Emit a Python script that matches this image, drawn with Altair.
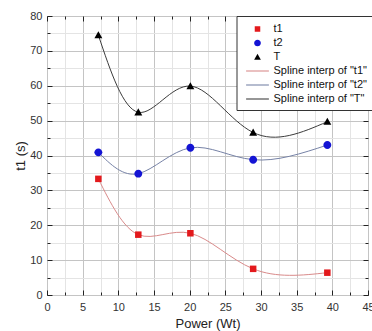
import altair as alt
import pandas as pd

# ---- data ----
power = [7.2, 12.8, 20.1, 28.9, 39.3]
t1 = [33.3, 17.3, 17.7, 7.5, 6.4]
t2 = [40.9, 34.8, 42.2, 38.8, 43.0]
T = [74.5, 52.4, 59.9, 46.6, 49.7]

series_names = ["t1", "t2", "T"]
spline_names = ['Spline interp of "t1"', 'Spline interp of "t2"', 'Spline interp of "T"']
point_colors = ["#e3191c", "#1414d4", "#000000"]
line_colors = ["#d98a8a", "#7682a6", "#3c3c3c"]

x_major = [0, 5, 10, 15, 20, 25, 30, 35, 40, 45]
x_minor = [2.5, 7.5, 12.5, 17.5, 22.5, 27.5, 32.5, 37.5, 42.5]
y_major = [0, 10, 20, 30, 40, 50, 60, 70, 80]
y_minor = [5, 15, 25, 35, 45, 55, 65, 75]

# symbol paths (styles) for the legend / points
sq = "M-0.46,-0.46H0.46V0.46H-0.46Z"
ci = "M-0.56,0A0.56,0.56 0 1,0 0.56,0A0.56,0.56 0 1,0 -0.56,0Z"
tr = "M0,-0.55L0.56,0.45L-0.56,0.45Z"
ln = "M-1.9,-0.09H1.9V0.09H-1.9Z"

# ---- tables ----
values = [t1, t2, T]
pts = pd.DataFrame(
    [{"power": p, "value": v, "label": name}
     for name, vals in zip(series_names, values) for p, v in zip(power, vals)]
)
lines = pd.DataFrame(
    [{"power": p, "value": v, "label": name}
     for name, vals in zip(spline_names, values) for p, v in zip(power, vals)]
)

all_labels = series_names + spline_names
font = "Liberation Sans"

xs = alt.Scale(domain=[0, 45], nice=False, zero=False)
ys = alt.Scale(domain=[0, 80], nice=False, zero=False)

common = dict(domain=False, tickColor="#222", tickWidth=1, labelFont=font,
              titleFont=font)

minor_layer = alt.Chart(pts).mark_point(opacity=0).encode(
    x=alt.X("power:Q", scale=xs, axis=alt.Axis(
        orient="bottom", values=x_minor, labels=False, tickSize=3, offset=-3,
        grid=True, gridColor="#e4e4e4", title=None, zindex=0, **common)),
    y=alt.Y("value:Q", scale=ys, axis=alt.Axis(
        orient="left", values=y_minor, labels=False, tickSize=3, offset=-3,
        grid=True, gridColor="#e4e4e4", title=None, zindex=0, **common)),
)

major_layer = alt.Chart(pts).mark_point(opacity=0).encode(
    x=alt.X("power:Q", scale=xs, axis=alt.Axis(
        orient="bottom", values=x_major, tickSize=5, offset=-5, labelPadding=6,
        labelFontSize=11, labelColor="#333", grid=True, gridColor="#c4c4c4",
        title="Power (Wt)", titleFontSize=13, titleFontWeight="normal",
        titleColor="#222", titlePadding=5, zindex=0, labelFlush=False,
        labelOverlap=False, **common)),
    y=alt.Y("value:Q", scale=ys, axis=alt.Axis(
        orient="left", values=y_major, tickSize=5, offset=-5, labelPadding=5,
        labelFontSize=11, labelColor="#333", grid=True, gridColor="#c4c4c4",
        title="t1 (s)", titleFontSize=13, titleFontWeight="normal",
        titleColor="#222", titlePadding=2, zindex=0, labelFlush=False,
        labelOverlap=False, **common)),
)

line_layer = alt.Chart(lines).mark_line(interpolate="natural", strokeWidth=1).encode(
    x=alt.X("power:Q", scale=xs, axis=alt.Axis(
        orient="top", values=x_major, labels=False, tickSize=5, offset=-5,
        grid=False, title=None, **common)),
    y=alt.Y("value:Q", scale=ys, axis=alt.Axis(
        orient="right", values=y_major, labels=False, tickSize=5, offset=-5,
        grid=False, title=None, **common)),
    stroke=alt.Stroke("label:N", scale=alt.Scale(domain=spline_names,
                      range=line_colors), legend=None),
)

leg = alt.Legend(
    title=None, orient="none", legendX=189.5, legendY=0, padding=6,
    rowPadding=2, symbolSize=144, symbolOffset=8, labelOffset=9,
    labelFont=font, labelFontSize=11, labelColor="#111",
    fillColor="white", strokeColor="#333",
)

point_layer = alt.Chart(pts).mark_point(filled=True, size=200, opacity=1).encode(
    x=alt.X("power:Q", scale=xs, axis=alt.Axis(
        orient="top", values=x_minor, labels=False, tickSize=3, offset=-3,
        grid=False, title=None, **common)),
    y=alt.Y("value:Q", scale=ys, axis=alt.Axis(
        orient="right", values=y_minor, labels=False, tickSize=3, offset=-3,
        grid=False, title=None, **common)),
    color=alt.Color("label:N", scale=alt.Scale(domain=all_labels,
                    range=point_colors + line_colors), legend=leg),
    shape=alt.Shape("label:N", scale=alt.Scale(domain=all_labels,
                    range=[sq, ci, tr, ln, ln, ln]), legend=leg),
)

chart = alt.layer(minor_layer, major_layer, line_layer, point_layer).resolve_axis(
    x="independent", y="independent"
).properties(
    width=321, height=279,
    autosize=alt.AutoSizeParams(type="none"),
    padding={"left": 47, "top": 16, "right": 4, "bottom": 36},
    background="white",
).configure_view(stroke="#111", strokeWidth=1)

chart.save("out.html", embed_options={"renderer": "svg", "actions": False})
